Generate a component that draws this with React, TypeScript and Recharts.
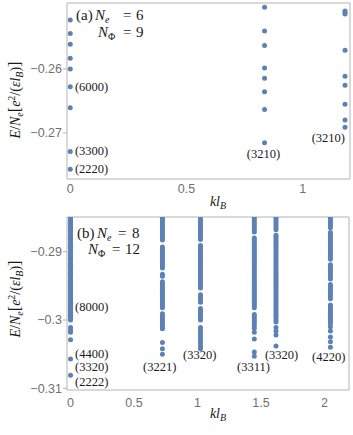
import { ScatterChart, Scatter, XAxis, YAxis, ReferenceArea } from 'recharts'

// panel (a): Ne = 6, NΦ = 9
const kA = [0, 0.8355, 1.1816]
const eA0 = [-0.25234, -0.25448, -0.25614, -0.25833, -0.26, -0.26277, -0.26605, -0.27292, -0.27567]
const eA1 = [-0.25036, -0.25406, -0.25636, -0.25984, -0.26145, -0.26355, -0.26636, -0.27152]
const eA2 = [-0.25094, -0.25114, -0.25141, -0.25708, -0.26114, -0.26255, -0.26552, -0.26797, -0.26911]
const labelsA = [
  { k: 0.02, e: -0.26277, text: '(6000)' },
  { k: 0.02, e: -0.27281, text: '(3300)' },
  { k: 0.02, e: -0.27563, text: '(2220)' },
  { k: 0.759, e: -0.27328, text: '(3210)' },
  { k: 1.038, e: -0.27073, text: '(3210)' },
]
const xTicksA = [0, 0.5, 1]
const yTicksA = [-0.26, -0.27]

// panel (b): Ne = 8, NΦ = 12
const kB = [0, 0.7236, 1.0233, 1.4472, 1.618, 2.0466]
const eB0 = [
  -0.285, -0.2852, -0.2855, -0.2858, -0.286, -0.2863, -0.2866, -0.2868, -0.2871, -0.2875, -0.2878, -0.288,
  -0.2883, -0.2887, -0.2889, -0.2892, -0.2894, -0.2897, -0.2901, -0.2903, -0.2906, -0.2908, -0.2911, -0.2915,
  -0.2918, -0.292, -0.2923, -0.2925, -0.2929, -0.2932, -0.2934, -0.2937, -0.2941, -0.2944, -0.2946, -0.2949,
  -0.2952, -0.2954, -0.2957, -0.2961, -0.2963, -0.2966, -0.2969, -0.2972, -0.2974, -0.2977, -0.298, -0.2982,
  -0.2985, -0.2988, -0.299, -0.2993, -0.2996, -0.2998, -0.3, -0.3011, -0.3015, -0.3018, -0.3029, -0.3057, -0.3081,
]
const eB1 = [
  -0.285, -0.2853, -0.2855, -0.2858, -0.2861, -0.2864, -0.2866, -0.2869, -0.2872, -0.2875, -0.2877, -0.288, -0.2883,
  -0.2893, -0.2896, -0.2898, -0.2901, -0.2904, -0.2907, -0.2909, -0.2912, -0.2915, -0.2918, -0.2921, -0.2924,
  -0.2933, -0.2936,
  -0.2944, -0.2947, -0.295, -0.2953, -0.2955, -0.2958, -0.2961, -0.2964, -0.2967, -0.297, -0.2973, -0.2976, -0.2979, -0.2982,
  -0.2991, -0.2994, -0.2997, -0.3, -0.3003, -0.3006, -0.3009, -0.3013, -0.3033, -0.3042, -0.305,
]
const eB2 = [
  -0.2852, -0.2855, -0.2858, -0.2861, -0.2864, -0.2867, -0.287, -0.2873, -0.2876, -0.2879, -0.2882,
  -0.2891, -0.2894, -0.2897, -0.29, -0.2903, -0.2905, -0.2908, -0.2911, -0.2914, -0.2917, -0.292, -0.2923, -0.2926,
  -0.2929, -0.2932, -0.2935, -0.2938, -0.2941, -0.2944, -0.2947, -0.295, -0.2953,
  -0.2963, -0.2966, -0.2969, -0.2972, -0.2974,
  -0.2983, -0.2986, -0.2989, -0.2992, -0.2995, -0.2998, -0.3,
  -0.3011, -0.3014, -0.3018, -0.3022, -0.3026, -0.303, -0.3034, -0.3038, -0.3042,
]
const eB3 = [
  -0.285, -0.2853, -0.2856, -0.2859, -0.2862, -0.2865, -0.2868, -0.2871,
  -0.288, -0.2883, -0.2886, -0.2889, -0.2892, -0.2895, -0.2898, -0.2901, -0.2904, -0.2907, -0.291, -0.2913, -0.2916,
  -0.2919, -0.2922, -0.2925, -0.2928, -0.2931, -0.2934, -0.2937, -0.294, -0.2943, -0.2946, -0.2949, -0.2952, -0.2955,
  -0.2958, -0.2961, -0.2964, -0.2967, -0.297, -0.2973, -0.2976, -0.2979, -0.2982,
  -0.2992, -0.2995, -0.2998, -0.3001, -0.3004, -0.3008, -0.3012, -0.3018, -0.3028, -0.3047, -0.3053,
]
const eB4 = [
  -0.285, -0.2853, -0.2856, -0.2859, -0.2862, -0.2865, -0.2868,
  -0.2876, -0.2879, -0.2882, -0.2885, -0.2888, -0.2891, -0.2894, -0.2897, -0.29, -0.2903, -0.2906, -0.2909, -0.2912,
  -0.2915, -0.2918, -0.2921, -0.2924, -0.2927, -0.293, -0.2933, -0.2936, -0.2939, -0.2942, -0.2945, -0.2948, -0.2951,
  -0.2954, -0.2957, -0.296, -0.2963, -0.2966, -0.2969, -0.2972, -0.2975, -0.2978, -0.2981, -0.2984, -0.2987, -0.299,
  -0.2993, -0.2996, -0.3, -0.3003, -0.3011, -0.3016, -0.3022, -0.3038,
]
const eB5 = [
  -0.285, -0.2853, -0.2856, -0.2859, -0.2862, -0.2865,
  -0.2872, -0.2875, -0.2878, -0.2881, -0.2884, -0.2887, -0.289, -0.2893, -0.2896, -0.2899, -0.2902, -0.2905, -0.2908, -0.2911,
  -0.2919, -0.2922, -0.2925, -0.2928, -0.2931, -0.2934, -0.2937, -0.294,
  -0.2948, -0.2951, -0.2954, -0.2957, -0.296, -0.2963, -0.2966, -0.2969,
  -0.2978, -0.2981, -0.2984, -0.2987, -0.299, -0.2993, -0.2996, -0.2999, -0.3002, -0.3005, -0.301,
  -0.3016, -0.3025, -0.3032, -0.304,
]
const labelsB = [
  { k: 0.035, e: -0.29805, text: '(8000)' },
  { k: 0.035, e: -0.3049, text: '(4400)' },
  { k: 0.035, e: -0.30678, text: '(3320)' },
  { k: 0.035, e: -0.30903, text: '(2222)' },
  { k: 0.571, e: -0.30684, text: '(3221)' },
  { k: 0.886, e: -0.30505, text: '(3320)' },
  { k: 1.311, e: -0.30684, text: '(3311)' },
  { k: 1.531, e: -0.30512, text: '(3320)' },
  { k: 1.902, e: -0.30537, text: '(4220)' },
]
const xTicksB = [0, 0.5, 1, 1.5, 2]
const yTicksB = [-0.29, -0.3, -0.31]

const toPoints = (ks: number[], cols: number[][]) =>
  cols.flatMap((col, i) => col.map((e) => ({ k: ks[i], e })))

const pointsA = toPoints(kA, [eA0, eA1, eA2])
const pointsB = toPoints(kB, [eB0, eB1, eB2, eB3, eB4, eB5])

const BLUE = '#5e81b5'
const SERIF = 'Liberation Serif'
const SANS = 'Liberation Sans'

const fmt = (v: number) => String(v).replace('-', '\u2212')

const Dot = (p: any) => <circle cx={p.cx} cy={p.cy} r={2.5} fill={BLUE} />

const Tag = (p: any) => (
  <text x={p.cx} y={p.cy} dy="0.35em" style={{ fontFamily: SERIF }} fontSize={12.5} fill="#1a1a1a">
    {p.payload.text}
  </text>
)

const YTitle = ({ viewBox, shift }: any) => {
  const cx = viewBox.x + 15
  const cy = viewBox.y + viewBox.height / 2 + shift
  return (
    <text
      transform={`translate(${cx},${cy}) rotate(-90)`}
      textAnchor="middle"
      dy="0.35em"
      style={{ fontFamily: SERIF }}
      fontSize={14}
      fill="#1a1a1a"
    >
      <tspan fontStyle="italic">E</tspan>
      <tspan>/</tspan>
      <tspan fontStyle="italic">N</tspan>
      <tspan fontStyle="italic" fontSize={10} dy={3}>e</tspan>
      <tspan dy={-3} fontSize={16}>[</tspan>
      <tspan fontStyle="italic">e</tspan>
      <tspan fontSize={10} dy={-5}>2</tspan>
      <tspan dy={5}>/(</tspan>
      <tspan fontStyle="italic">εl</tspan>
      <tspan fontStyle="italic" fontSize={10} dy={3}>B</tspan>
      <tspan dy={-3}>)</tspan>
      <tspan fontSize={16}>]</tspan>
    </text>
  )
}

const XTitle = ({ viewBox, down }: any) => (
  <text
    x={viewBox.x + 151}
    y={viewBox.y + down}
    dy="0.35em"
    textAnchor="middle"
    style={{ fontFamily: SERIF }}
    fontSize={14}
    fill="#1a1a1a"
  >
    <tspan fontStyle="italic">kl</tspan>
    <tspan fontStyle="italic" fontSize={10} dy={3}>B</tspan>
  </text>
)

const Header = ({ viewBox, tag, ne, nphi, pos }: any) => {
  const x0 = viewBox.x
  const y0 = viewBox.y
  const common = { style: { fontFamily: SERIF }, fontSize: 15, fill: '#1a1a1a', dy: '0.35em' }
  return (
    <g>
      <text x={x0 + pos[0]} y={y0 + pos[8]} {...common}>{tag}</text>
      <text x={x0 + pos[1]} y={y0 + pos[8]} {...common}>
        <tspan fontStyle="italic">N</tspan>
        <tspan fontStyle="italic" fontSize={10} dy={3}>e</tspan>
      </text>
      <text x={x0 + pos[2]} y={y0 + pos[8]} {...common}>=</text>
      <text x={x0 + pos[3]} y={y0 + pos[8]} {...common}>{ne}</text>
      <text x={x0 + pos[4]} y={y0 + pos[9]} {...common}>
        <tspan fontStyle="italic">N</tspan>
        <tspan fontSize={10} dy={3}>Φ</tspan>
      </text>
      <text x={x0 + pos[5]} y={y0 + pos[9]} {...common}>=</text>
      <text x={x0 + pos[6]} y={y0 + pos[9]} {...common}>{nphi}</text>
    </g>
  )
}

const Panel = ({ width, height, margin, xDomain, yDomain, xTicks, yTicks, points, labels, xAxisH, tickGap, yShift, xDown, header }: any) => (
  <ScatterChart width={width} height={height} margin={margin}>
    <XAxis
      type="number"
      dataKey="k"
      domain={xDomain}
      ticks={xTicks}
      allowDataOverflow
      height={xAxisH}
      axisLine={false}
      tickLine={false}
      tickSize={3}
      tickMargin={tickGap}
      tickFormatter={fmt}
      tick={{ fontFamily: SANS, fontSize: 12.5, fill: '#707070' }}
      label={(p: any) => <XTitle viewBox={p.viewBox} down={xDown} />}
    />
    <YAxis
      type="number"
      dataKey="e"
      domain={yDomain}
      ticks={yTicks}
      allowDataOverflow
      width={67}
      axisLine={false}
      tickLine={{ stroke: '#b4b4b4' }}
      tickSize={4}
      tickMargin={1}
      tickFormatter={fmt}
      tick={{ fontFamily: SANS, fontSize: 12.5, fill: '#707070' }}
      label={(p: any) => <YTitle viewBox={p.viewBox} shift={yShift} />}
    />
    <ReferenceArea
      x1={xDomain[0]}
      x2={xDomain[1]}
      y1={yDomain[0]}
      y2={yDomain[1]}
      fill="none"
      stroke="#b4b4b4"
      strokeWidth={1}
      label={(p: any) => <Header viewBox={p.viewBox} {...header} />}
    />
    <Scatter data={points} shape={Dot} isAnimationActive={false} />
    <Scatter data={labels} shape={Tag} isAnimationActive={false} />
  </ScatterChart>
)

export default function App() {
  return (
    <div style={{ position: 'absolute', left: 0, top: 0, width: 353, height: 435, background: '#fff' }}>
      <Panel
        width={353}
        height={210}
        margin={{ top: 3, right: 3, left: 0, bottom: 0 }}
        xDomain={[-0.014, 1.203]}
        yDomain={[-0.2772, -0.2497]}
        xTicks={xTicksA}
        yTicks={yTicksA}
        points={pointsA}
        labels={labelsA}
        xAxisH={31}
        tickGap={2}
        yShift={9}
        xDown={22}
        header={{ tag: '(a)', ne: '6', nphi: '9', pos: [9, 28, 56, 69, 31, 56, 69, 0, 12, 29] }}
      />
      <Panel
        width={353}
        height={225}
        margin={{ top: 7, right: 4, left: 0, bottom: 0 }}
        xDomain={[-0.028, 2.193]}
        yDomain={[-0.31025, -0.28492]}
        xTicks={xTicksB}
        yTicks={yTicksB}
        points={pointsB}
        labels={labelsB}
        xAxisH={45}
        tickGap={5}
        yShift={-4.5}
        xDown={23}
        header={{ tag: '(b)', ne: '8', nphi: '12', pos: [10, 30, 51, 65, 21, 45, 58, 0, 16, 32] }}
      />
    </div>
  )
}
